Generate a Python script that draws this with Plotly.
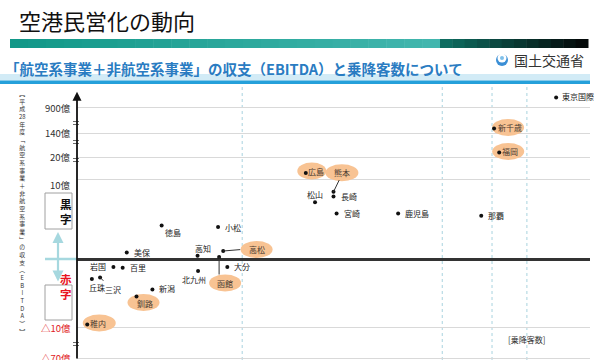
import plotly.graph_objects as go

# ---------------- data ----------------
airports = ["東京国際", "新千歳", "福岡", "広島", "熊本", "長崎", "松山", "宮崎", "鹿児島", "那覇",
            "徳島", "小松", "高松", "美保", "高知", "函館", "大分", "岩国", "百里", "北九州",
            "三沢", "丘珠", "新潟", "釧路", "稚内"]
# relative passenger position on the (unlabelled) x scale, 0-100
passengers_idx = [93.4, 81.3, 82.3, 44.6, 50.0, 50.0, 46.4, 50.6, 62.6, 78.8,
                  16.5, 27.5, 28.5, 9.7, 23.5, 27.7, 29.3, 7.1, 8.9, 23.6,
                  4.5, 2.9, 14.7, 11.6, 2.0]
# EBITDA on the broken display scale (10 = 10億 line, 0 = break-even)
ebitda_disp = [20.2, 16.3, 13.3, 10.75, 8.4, 7.8, 7.1, 5.7, 5.7, 5.4,
               4.2, 4.0, 1.0, 0.8, 0.4, 0.25, -1.0, -1.0, -1.1, -1.5,
               -2.3, -2.5, -3.8, -4.7, -8.2]
highlighted = ["新千歳", "福岡", "広島", "熊本", "高松", "函館", "釧路", "稚内"]

ytick_vals = [18.9, 15.75, 12.75, 10, -8.6, -12.4]
ytick_text = ["900億", "140億", "20億", "10億", "△10億", "△70億"]
ytick_neg = [False, False, False, False, True, True]
threshold_x = [32.2, 71.2, 80.9, 87.7]

title_text = "空港民営化の動向"
subtitle_text = "「航空系事業＋非航空系事業」の収支（EBITDA）と乗降客数について"
ministry_text = "国土交通省"
yaxis_title_cells = ["︻", "平", "成", "28", "年", "度", "﹁", "航", "空", "系", "事", "業", "＋",
                     "非", "航", "空", "系", "事", "業", "﹂", "の", "収", "支", "︵",
                     "E", "B", "I", "T", "D", "A", "︶", "︼"]
xaxis_title = "[乗降客数]"

# ---------------- style / label layout (screen px offsets, +dy = down) ----------------
# name: (anchor, text dx, text dy, ellipse (dx, dy, w) or None, leader line end (dx, dy) or None)
label_style = {
    "東京国際": ("left", 4, -1, None, None),
    "新千歳": ("center", 16, -1, (14, -1, 32), None),
    "福岡": ("center", 11, -1, (9, -1, 32), None),
    "広島": ("center", 10.5, -2, (6, -2, 29), None),
    "熊本": ("center", 8.4, -19, (8.4, -19, 33), (5.7, -11.7)),
    "長崎": ("left", 5, 0, None, None),
    "松山": ("center", 0, -8, None, None),
    "宮崎": ("left", 5, 0, None, None),
    "鹿児島": ("left", 5, 0, None, None),
    "那覇": ("left", 5, 0, None, None),
    "徳島": ("center", 11, 7, None, None),
    "小松": ("left", 5, 0, None, None),
    "高松": ("center", 33.4, -1.4, (33.4, -1.4, 32), (17, -1.4)),
    "美保": ("left", 5, 0, None, None),
    "高知": ("center", 5, -7, None, None),
    "函館": ("center", 6, 26, (6, 26, 32), (0, 17.5)),
    "大分": ("left", 5, -1, None, None),
    "岩国": ("right", -5, -1, None, None),
    "百里": ("left", 5, 0, None, None),
    "北九州": ("center", -4, 8, None, None),
    "三沢": ("center", 13, 12, None, (3.3, 3.4)),
    "丘珠": ("center", 5, 8, None, None),
    "新潟": ("left", 5, -1, None, None),
    "釧路": ("center", 8, 7, (7, 6, 32), None),
    "稚内": ("center", 10.5, -1.5, (12, -1.6, 33), None),
}

FONT = "Noto Sans CJK JP"
W, H = 600, 360
L, R, T, B = 77, 590, 85, 360


def PX(x):
    return (x - L) / (R - L)


def PY(y):
    return (B - y) / (B - T)


fig = go.Figure()

fig.add_trace(go.Scatter(
    x=passengers_idx, y=ebitda_disp, mode="markers",
    marker=dict(size=4, color="#111111"), hoverinfo="text", text=airports,
    showlegend=False, cliponaxis=False))

shapes = []
annotations = []

# threshold dashed lines
for tx in threshold_x:
    shapes.append(dict(type="line", xref="x", yref="paper", x0=tx, x1=tx, y0=0, y1=1.01,
                       line=dict(color="#a9d3df", width=1, dash="dot"), layer="below"))

# labels, ellipses, leader lines
for name, xv, yv in zip(airports, passengers_idx, ebitda_disp):
    anchor, tdx, tdy, ell, lead = label_style[name]
    if ell is not None:
        edx, edy, ew = ell
        eh = 17
        shapes.append(dict(type="circle", xref="x", yref="y", xsizemode="pixel", ysizemode="pixel",
                           xanchor=xv, yanchor=yv,
                           x0=edx - ew / 2, x1=edx + ew / 2, y0=-edy - eh / 2, y1=-edy + eh / 2,
                           fillcolor="#f8c393", line=dict(width=0), layer="between"))
    if lead is not None:
        ldx, ldy = lead
        shapes.append(dict(type="line", xref="x", yref="y", xsizemode="pixel", ysizemode="pixel",
                           xanchor=xv, yanchor=yv, x0=0, x1=ldx, y0=0, y1=-ldy,
                           line=dict(color="#333333", width=1), layer="above"))
    col = "#4a3a30" if name in highlighted else "#222222"
    annotations.append(dict(x=xv, y=yv, xref="x", yref="y", text=name, showarrow=False,
                            xanchor=anchor, yanchor="middle", xshift=tdx, yshift=-tdy,
                            font=dict(family=FONT, size=8, color=col)))

# y tick labels
for v, t, neg in zip(ytick_vals, ytick_text, ytick_neg):
    shift = -6 if t == "10億" else 0
    annotations.append(dict(x=0, y=v, xref="x", yref="y", text=t, showarrow=False,
                            xanchor="right", yanchor="middle", xshift=-4, yshift=shift,
                            font=dict(family=FONT, size=9.5,
                                      color="#e0201e" if neg else "#333333")))

# y axis arrow
annotations.append(dict(x=0, y=20.9, xref="x", yref="y", ax=0, ay=-12.625, axref="x", ayref="y",
                        text="", showarrow=True, arrowhead=2, arrowsize=1, arrowwidth=1.8,
                        arrowcolor="#111111"))
# axis break marks
for by in [123, 142, 160, 344]:
    for off in (-1.5, 1.5):
        shapes.append(dict(type="line", xref="paper", yref="paper", x0=PX(73), x1=PX(79),
                           y0=PY(by + off), y1=PY(by + off), line=dict(color="#444444", width=0.8)))

# x axis caption
annotations.append(dict(x=PX(547), y=PY(347), xref="paper", yref="paper", text=xaxis_title,
                        showarrow=False, font=dict(family=FONT, size=8, color="#333333")))

# vertical y-axis title (stacked glyphs)
annotations.append(dict(x=PX(18), y=PY(88), xref="paper", yref="paper",
                        text="<br>".join(yaxis_title_cells), yanchor="top", align="center",
                        showarrow=False, borderpad=0,
                        font=dict(family=FONT, size=5.9, color="#333333")))

# 黒字 / 赤字 boxes
for (y0, y1, c1, c2, col) in [(193, 229, "黒", "字", "#111111"), (285, 320, "赤", "字", "#e8141e")]:
    shapes.append(dict(type="rect", xref="paper", yref="paper", x0=PX(45), x1=PX(72),
                       y0=PY(y1), y1=PY(y0), line=dict(color="#a0a0a0", width=1),
                       fillcolor="white"))
    mid = (y0 + y1) / 2
    annotations.append(dict(x=PX(58.5), y=PY(mid), xref="paper", yref="paper",
                            text="<b>" + c1 + "<br>" + c2 + "</b>", borderpad=0,
                            showarrow=False, font=dict(family=FONT, size=11.5, color=col)))

# light blue double arrow and break-even connector
annotations.append(dict(x=PX(58), y=PY(232), xref="paper", yref="paper", ax=0, ay=51,
                        text="", showarrow=True, arrowhead=2, arrowside="end+start",
                        arrowwidth=2.2, arrowsize=1, arrowcolor="#a6d8df"))
shapes.append(dict(type="line", xref="paper", yref="paper", x0=PX(45), x1=PX(77),
                   y0=PY(259), y1=PY(259), line=dict(color="#a6d8df", width=2.5)))

# ---------- header ----------
annotations.append(dict(x=PX(17), y=PY(20), xref="paper", yref="paper", text=title_text,
                        showarrow=False, xanchor="left", yanchor="middle",
                        font=dict(family=FONT, size=22, color="#111111")))


def lerp(c1, c2, t):
    return "rgb(%d,%d,%d)" % tuple(round(a + (b - a) * t) for a, b in zip(c1, c2))


n = 24
for i in range(n):
    xa = 10 + (440 - 10) * i / n
    xb = 10 + (440 - 10) * (i + 1) / n + 0.5
    shapes.append(dict(type="rect", xref="paper", yref="paper", x0=PX(xa), x1=PX(xb),
                       y0=PY(48), y1=PY(39), line=dict(width=0),
                       fillcolor=lerp((18, 152, 136), (66, 182, 174), i / (n - 1))))
n2 = 12
for i in range(n2):
    xa = 440 + (588 - 440) * i / n2
    xb = 440 + (588 - 440) * (i + 1) / n2 + 0.5
    shapes.append(dict(type="rect", xref="paper", yref="paper", x0=PX(xa), x1=PX(xb),
                       y0=PY(48), y1=PY(39), line=dict(width=0),
                       fillcolor=lerp((14, 108, 96), (5, 10, 10), i / (n2 - 1))))

annotations.append(dict(x=PX(3), y=PY(68), xref="paper", yref="paper", text="<b>" + subtitle_text + "</b>",
                        showarrow=False, xanchor="left", yanchor="middle",
                        font=dict(family=FONT, size=14.5, color="#2a7cc2")))
annotations.append(dict(x=PX(512), y=PY(60), xref="paper", yref="paper", text=ministry_text,
                        showarrow=False, xanchor="left", yanchor="middle",
                        font=dict(family=FONT, size=14, color="#333333")))
# emblem
shapes.append(dict(type="circle", xref="paper", yref="paper", x0=PX(496), x1=PX(508),
                   y0=PY(66), y1=PY(54), fillcolor="#3b8fd6", line=dict(width=0)))
shapes.append(dict(type="circle", xref="paper", yref="paper", x0=PX(497.5), x1=PX(506.5),
                   y0=PY(62.5), y1=PY(53.5), fillcolor="white", line=dict(width=0)))
shapes.append(dict(type="circle", xref="paper", yref="paper", x0=PX(500), x1=PX(504),
                   y0=PY(60), y1=PY(56), fillcolor="#7fc0ea", line=dict(width=0)))

# header bands
shapes.append(dict(type="rect", xref="paper", yref="paper", x0=PX(0), x1=PX(590),
                   y0=PY(80.5), y1=PY(74), fillcolor="#d2ebf6", line=dict(width=0)))
shapes.append(dict(type="rect", xref="paper", yref="paper", x0=PX(0), x1=PX(590),
                   y0=PY(84), y1=PY(80.5), fillcolor="#25a0da", line=dict(width=0)))

fig.update_layout(
    width=W, height=H,
    margin=dict(l=L, r=W - R, t=T, b=H - B),
    paper_bgcolor="white", plot_bgcolor="white",
    xaxis=dict(range=[0, 100], showgrid=False, zeroline=False, showticklabels=False,
               showline=False, ticks=""),
    yaxis=dict(range=[-12.625, 21.75], tickvals=ytick_vals, showticklabels=False, ticks="",
               showgrid=True, gridcolor="#d9d9d9", gridwidth=1,
               zeroline=True, zerolinecolor="#333333", zerolinewidth=2.5, showline=False),
    shapes=shapes, annotations=annotations, showlegend=False,
    font=dict(family=FONT),
)

fig.write_html("out.html", config={"displayModeBar": False},
               post_script="document.body.style.margin='0';document.body.style.overflow='hidden';")
